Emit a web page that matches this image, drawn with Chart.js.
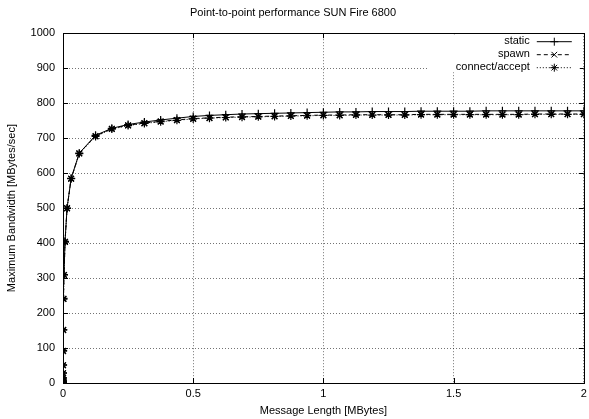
<!DOCTYPE html>
<html>
<head>
<meta charset="utf-8">
<script src="https://cdn.jsdelivr.net/npm/chart.js@4/dist/chart.umd.min.js"></script>
<style>
  html, body { margin: 0; padding: 0; background: #fff; }
  #wrap { width: 589px; height: 419px; }
</style>
</head>
<body>
<div id="wrap"><canvas id="bw-chart"></canvas></div>
<script>
// message sizes in MBytes
const sizes = [
    0.00000095, 0.0000019, 0.0000038, 0.0000076, 0.0000153, 0.0000305, 0.000061, 0.000122,
    0.000244, 0.000488, 0.000977, 0.00195, 0.0039, 0.0078, 0.0156, 0.03125,
    0.0625, 0.125, 0.1875, 0.25, 0.3125, 0.375, 0.4375, 0.5,
    0.5625, 0.625, 0.6875, 0.75, 0.8125, 0.875, 0.9375, 1,
    1.0625, 1.125, 1.1875, 1.25, 1.3125, 1.375, 1.4375, 1.5,
    1.5625, 1.625, 1.6875, 1.75, 1.8125, 1.875, 1.9375, 2
];
const staticBw = [
    0.3, 0.5, 1, 2, 4, 8, 15, 29,
    52, 93, 153, 242, 310, 405, 500, 585,
    657, 708, 728, 739, 746, 752, 757, 762,
    765, 767, 769, 770, 771, 772, 773, 774,
    775, 775, 776, 776, 776, 777, 777, 777,
    777, 778, 778, 778, 778, 778, 778, 778
];
const spawnBw = [
    0.3, 0.5, 1, 2, 4, 8, 15, 28,
    51, 92, 152, 241, 309, 404, 500, 584,
    657, 706, 727, 737, 743, 748, 752, 756,
    758, 760, 761, 762, 763, 764, 765, 766,
    766, 767, 767, 767, 767, 768, 768, 768,
    768, 768, 768, 768, 769, 769, 769, 769
];
const connectBw = [
    0.3, 0.5, 1, 2, 4, 8, 14, 28,
    51, 91, 151, 240, 309, 403, 499, 584,
    656, 705, 726, 736, 742, 747, 751, 755,
    757, 759, 760, 761, 762, 763, 764, 765,
    765, 766, 766, 766, 766, 767, 767, 767,
    767, 767, 767, 767, 768, 768, 768, 768
];
const seriesNames = ["static", "spawn", "connect/accept"];
const xTicks = [0, 0.5, 1, 1.5, 2];

const FONT = "'Liberation Sans', Arial, Helvetica, sans-serif";

function pts(vals) {
    return sizes.map((s, i) => ({ x: s, y: vals[i] }));
}

const lineSet = (label, vals, pointStyle, dash) => ({
    label: label,
    data: pts(vals),
    borderColor: "#000",
    backgroundColor: "#000",
    borderWidth: 1,
    borderDash: dash,
    pointStyle: pointStyle,
    pointRadius: 4,
    pointBorderWidth: 1.2,
    pointBorderColor: "#000",
    tension: 0,
    fill: false,
});

// gnuplot style frame with inward ticks on all four sides
const framePlugin = {
    id: "frame",
    afterDatasetsDraw(chart) {
        const ctx = chart.ctx;
        const a = chart.chartArea;
        const xs = chart.scales.x, ys = chart.scales.y;
        ctx.save();
        ctx.strokeStyle = "#000";
        ctx.lineWidth = 1;
        ctx.setLineDash([]);
        ctx.strokeRect(Math.round(a.left) + 0.5, Math.round(a.top) + 0.5,
            Math.round(a.right - a.left), Math.round(a.bottom - a.top));
        ctx.beginPath();
        xs.ticks.forEach(t => {
            const px = Math.round(xs.getPixelForValue(t.value)) + 0.5;
            ctx.moveTo(px, a.bottom); ctx.lineTo(px, a.bottom - 5);
            ctx.moveTo(px, a.top); ctx.lineTo(px, a.top + 5);
        });
        ys.ticks.forEach(t => {
            const py = Math.round(ys.getPixelForValue(t.value)) + 0.5;
            ctx.moveTo(a.left, py); ctx.lineTo(a.left + 5, py);
            ctx.moveTo(a.right, py); ctx.lineTo(a.right - 5, py);
        });
        ctx.stroke();
        ctx.restore();
    }
};

// key in the top right corner: label, then a line sample with its marker
const keyPlugin = {
    id: "key",
    afterDraw(chart) {
        const ctx = chart.ctx;
        const a = chart.chartArea;
        const textRight = a.right - 54;
        const lineL = a.right - 47, lineR = a.right - 12;
        ctx.save();
        ctx.fillStyle = "#fff";
        ctx.fillRect(a.left + 364, a.top + 1, a.right - a.left - 368, 38);
        ctx.font = "11px " + FONT;
        ctx.textAlign = "right";
        ctx.textBaseline = "middle";
        chart.data.datasets.forEach((ds, i) => {
            const y = a.top + 8 + i * 13;
            ctx.fillStyle = "#000";
            ctx.fillText(ds.label, textRight, y);
            ctx.strokeStyle = "#000";
            ctx.lineWidth = 1;
            ctx.setLineDash(ds.borderDash || []);
            ctx.beginPath();
            ctx.moveTo(lineL, y + 0.5);
            ctx.lineTo(lineR, y + 0.5);
            ctx.stroke();
            ctx.setLineDash([]);
            Chart.helpers.drawPoint(ctx, {
                pointStyle: ds.pointStyle, rotation: 0,
                radius: ds.pointRadius, borderWidth: 1
            }, (lineL + lineR) / 2, y + 0.5);
        });
        ctx.restore();
    }
};

Chart.defaults.font.family = FONT;
Chart.defaults.font.size = 11;
Chart.defaults.color = "#000";

const bwChart = new Chart(document.getElementById("bw-chart"), {
    type: "line",
    data: {
        datasets: [
            lineSet(seriesNames[0], staticBw, "cross", []),
            lineSet(seriesNames[1], spawnBw, "crossRot", [4, 3]),
            lineSet(seriesNames[2], connectBw, "star", [1, 2]),
        ]
    },
    options: {
        responsive: true,
        maintainAspectRatio: false,
        animation: false,
        layout: { padding: { right: 3 } },
        plugins: {
            legend: { display: false },
            tooltip: { enabled: false },
            title: {
                display: true,
                text: "Point-to-point performance SUN Fire 6800",
                font: { size: 11, weight: "normal" },
                color: "#000",
                padding: { top: 6, bottom: 14 },
            },
        },
        scales: {
            x: {
                type: "linear",
                min: 0,
                max: 2,
                afterFit: s => { s.height = 36; s.paddingRight = 0; },
                afterBuildTicks: s => { s.ticks = xTicks.map(v => ({ value: v })); },
                ticks: { padding: 4, maxRotation: 0, callback: v => String(v) },
                grid: { color: "rgba(0,0,0,0.55)", drawTicks: false },
                border: { display: false, dash: [1, 2] },
                title: { display: true, text: "Message Length [MBytes]", padding: { top: 0, bottom: 1 } },
            },
            y: {
                min: 0,
                max: 1000,
                afterFit: s => { s.width = 63; },
                ticks: { stepSize: 100, padding: 8, callback: v => String(v) },
                grid: { color: "rgba(0,0,0,0.55)", drawTicks: false },
                border: { display: false, dash: [1, 2] },
                title: { display: true, text: "Maximum Bandwidth [MBytes/sec]", padding: { top: 5, bottom: 0 } },
            },
        },
    },
    plugins: [framePlugin, keyPlugin],
});
</script>
</body>
</html>
